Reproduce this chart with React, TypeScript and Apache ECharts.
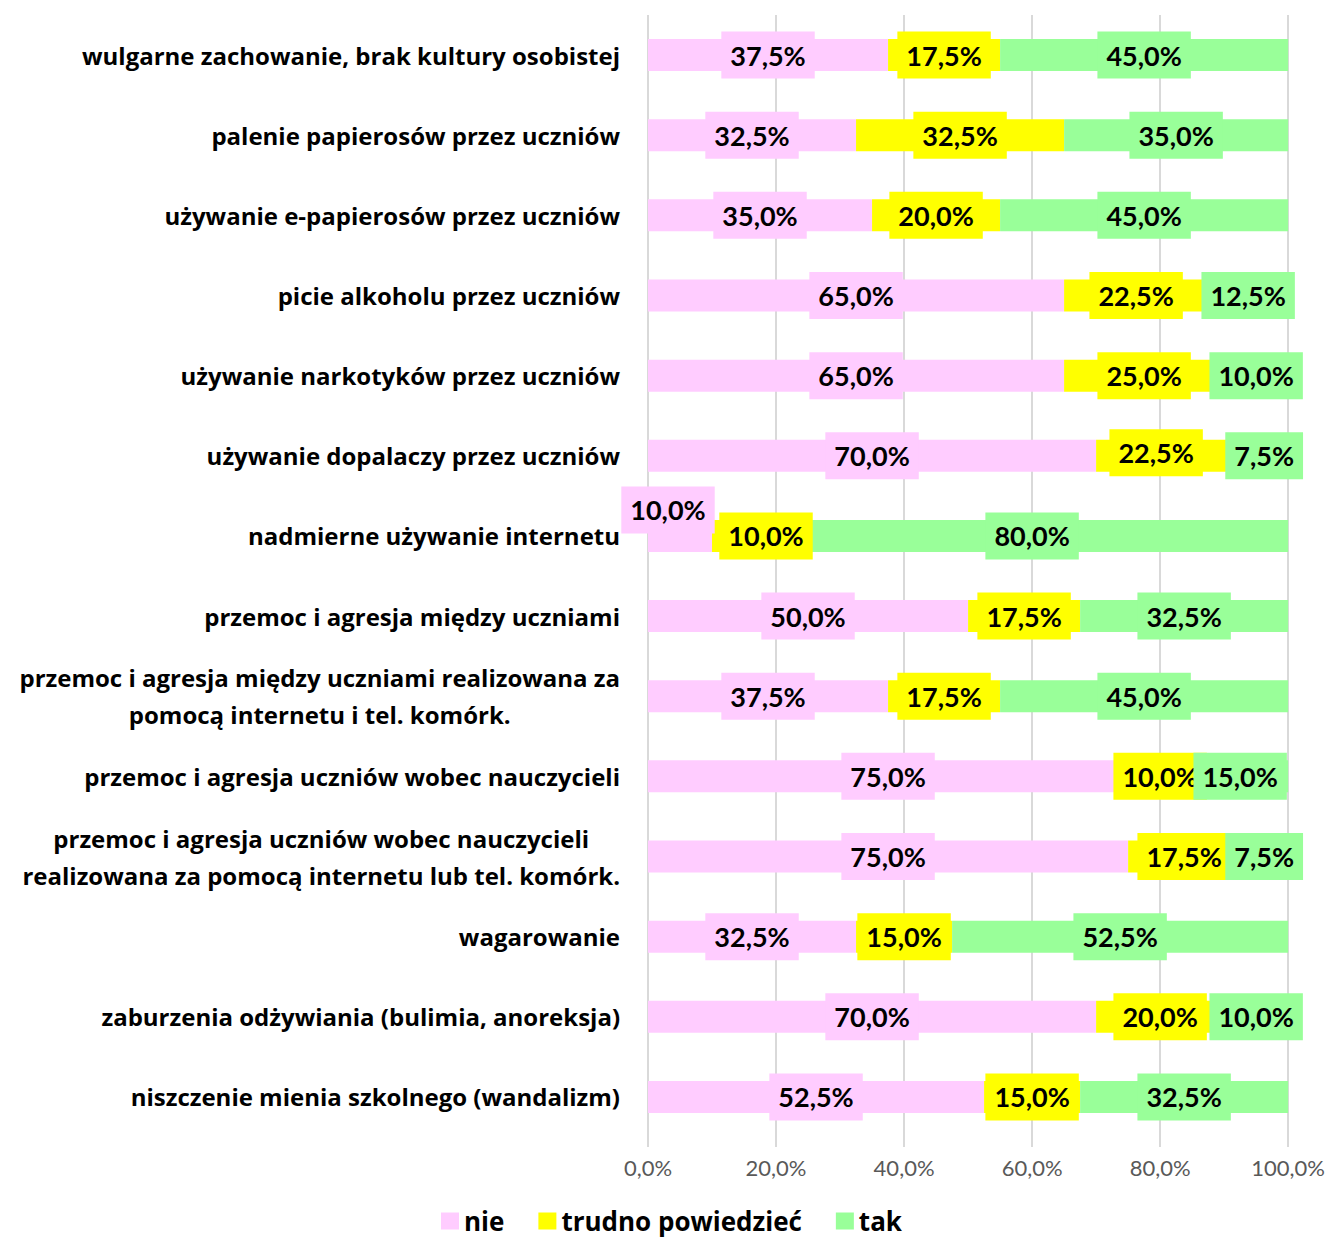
import React, { useEffect, useRef } from 'react';
import * as echarts from 'echarts';

const categories = [
  'wulgarne zachowanie, brak kultury osobistej',
  'palenie papierosów przez uczniów',
  'używanie e-papierosów przez uczniów',
  'picie alkoholu przez uczniów',
  'używanie narkotyków przez uczniów',
  'używanie dopalaczy przez uczniów',
  'nadmierne używanie internetu',
  'przemoc i agresja między uczniami',
  'przemoc i agresja między uczniami realizowana za\npomocą internetu i tel. komórk.',
  'przemoc i agresja uczniów wobec nauczycieli',
  'przemoc i agresja uczniów wobec nauczycieli\nrealizowana za pomocą internetu lub tel. komórk.',
  'wagarowanie',
  'zaburzenia odżywiania (bulimia, anoreksja)',
  'niszczenie mienia szkolnego (wandalizm)',
];
const nie = [37.5, 32.5, 35, 65, 65, 70, 10, 50, 37.5, 75, 75, 32.5, 70, 52.5];
const trudno = [17.5, 32.5, 20, 22.5, 25, 22.5, 10, 17.5, 17.5, 10, 17.5, 15, 20, 15];
const tak = [45, 35, 45, 12.5, 10, 7.5, 80, 32.5, 45, 15, 7.5, 52.5, 10, 32.5];
const seriesNames = ['nie', 'trudno powiedzieć', 'tak'];
const seriesColors = ['#FFCCFF', '#FFFF00', '#99FF99'];

// label nudges (as in the reference, where some labels were moved to avoid overlaps)
const labelShift: Record<string, number[]> = {
  '0-6': [-12, -26],
  '1-5': [-12, -3],
  '1-6': [22, 0],
};

const FONT = 'Lato';
const TXT = 'Open Sans';
const fmt = (v: number) => v.toFixed(1).replace('.', ',') + '%';

export default function App() {
  const ref = useRef<HTMLDivElement>(null);
  useEffect(() => {
    if (!ref.current) return;
    const chart = echarts.init(ref.current, null, { renderer: 'svg' });
    const all = [nie, trudno, tak];
    const series = all.map((arr, si) => ({
      name: seriesNames[si],
      type: 'bar',
      stack: 'total',
      barWidth: 32,
      itemStyle: { color: seriesColors[si] },
      label: {
        show: true,
        position: 'inside',
        formatter: (p: any) => fmt(p.value),
        fontFamily: FONT,
        fontSize: 27,
        fontWeight: 'bold',
        color: '#000',
        backgroundColor: seriesColors[si],
        padding: [10, 9],
      },
      data: arr.map((v, i) => {
        const sh = labelShift[`${si}-${i}`];
        return sh ? { value: v, label: { offset: sh } } : { value: v };
      }),
    }));
    chart.setOption({
      animation: false,
      grid: { left: 648, right: 37, top: 15, bottom: 101, containLabel: false },
      legend: {
        data: seriesNames,
        top: 1201,
        left: 436,
        icon: 'rect',
        itemWidth: 18,
        itemHeight: 17,
        itemGap: 34,
        textStyle: { fontFamily: TXT, fontSize: 26, fontWeight: 'bold', color: '#000', lineHeight: 30 },
      },
      xAxis: {
        type: 'value',
        min: 0,
        max: 100,
        interval: 20,
        axisLine: { show: false },
        axisTick: { show: true, length: 10, lineStyle: { color: '#d9d9d9', width: 2 } },
        splitLine: { show: true, lineStyle: { color: '#d9d9d9', width: 2 } },
        axisLabel: {
          formatter: (v: number) => fmt(v),
          fontFamily: FONT,
          fontSize: 22,
          color: '#595959',
          margin: 19,
        },
      },
      yAxis: {
        type: 'category',
        inverse: true,
        data: categories,
        axisLine: { show: false },
        axisTick: { show: false },
        axisLabel: {
          margin: 28,
          formatter: (v: string) => v.split('\n').map((l) => `{c|${l}}`).join('\n'),
          rich: {
            c: {
              align: 'center',
              fontFamily: TXT,
              fontSize: 24,
              fontWeight: 'bold',
              color: '#000',
              lineHeight: 37,
            },
          },
        },
      },
      series,
    });
    return () => chart.dispose();
  }, []);
  return (
    <div
      ref={ref}
      style={{ position: 'absolute', left: 0, top: 0, width: 1328, height: 1238 }}
    />
  );
}
